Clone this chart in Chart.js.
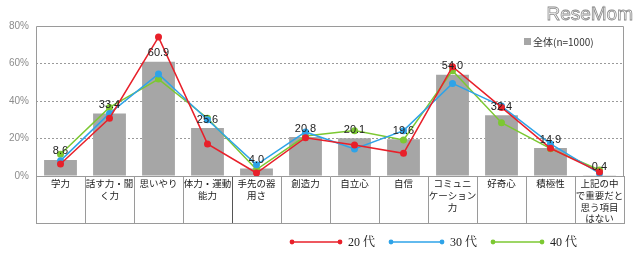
<!DOCTYPE html>
<html>
<head>
<meta charset="utf-8">
<script src="https://cdn.jsdelivr.net/npm/chart.js@4"></script>
<style>
  html, body { margin: 0; padding: 0; background: #fff; }
  #wrap { width: 640px; height: 255px; position: relative; }
</style>
</head>
<body>
<div id="wrap"><canvas id="chart" width="640" height="255"></canvas></div>
<script>
// categories (multi-line labels as drawn in the table under the chart)
const categories = [
  ["学力"],
  ["話す力・聞", "く力"],
  ["思いやり"],
  ["体力・運動", "能力"],
  ["手先の器", "用さ"],
  ["創造力"],
  ["自立心"],
  ["自信"],
  ["コミュニ", "ケーション", "力"],
  ["好奇心"],
  ["積極性"],
  ["上記の中", "で重要だと", "思う項目", "はない"]
];

// 全体 (n=1000) bars, %
const overall = [8.6, 33.4, 60.9, 25.6, 4.0, 20.8, 20.1, 19.6, 54.0, 32.4, 14.9, 0.4];
// age groups, %
const age20 = [6.4, 30.8, 74.1, 17.1, 1.6, 20.4, 16.5, 12.1, 58.3, 36.6, 14.8, 2.2];
const age30 = [8.2, 33.4, 54.4, 30.0, 6.0, 23.5, 14.4, 24.2, 49.4, 37.3, 17.1, 1.4];
const age40 = [11.6, 36.6, 51.7, 30.8, 3.4, 21.3, 24.2, 19.2, 56.2, 28.4, 14.6, 3.2];

const yTicks = [0, 20, 40, 60, 80];

const RED = "#e8202a", BLUE = "#2ea3e8", GREEN = "#7cc832", BARGRAY = "#a6a6a6";
const LINE_GRAY = "#9a9a9a";
const JP = '"Noto Sans CJK JP", sans-serif';

function lineSet(label, data, color, order) {
  return {
    type: "line", label, data, order,
    borderColor: color, backgroundColor: color,
    borderWidth: 1.5, tension: 0,
    pointRadius: 3.5, pointBorderWidth: 0, pointBackgroundColor: color
  };
}

const decor = {
  id: "decor",
  beforeDatasetsDraw(chart) {
    const { ctx, chartArea: a } = chart;
    ctx.save();
    // plot frame
    ctx.strokeStyle = LINE_GRAY;
    ctx.lineWidth = 1;
    ctx.beginPath();
    ctx.moveTo(a.left + 0.5, a.bottom);
    ctx.lineTo(a.left + 0.5, a.top + 0.5);
    ctx.lineTo(a.right - 0.5, a.top + 0.5);
    ctx.lineTo(a.right - 0.5, a.bottom);
    ctx.stroke();
    // bottom line of category table
    const xs = chart.scales.x;
    const tb = a.bottom + xs.options.grid.tickLength;
    ctx.beginPath();
    ctx.moveTo(a.left, tb - 0.5);
    ctx.lineTo(a.right, tb - 0.5);
    ctx.stroke();
    ctx.restore();
  },
  afterDatasetsDraw(chart) {
    const { ctx } = chart;
    ctx.save();
    // value labels above bars
    const meta = chart.getDatasetMeta(0);
    ctx.font = '11px "Liberation Sans", Arial, sans-serif';
    ctx.fillStyle = "#222";
    ctx.textAlign = "center";
    ctx.textBaseline = "bottom";
    meta.data.forEach((bar, i) => {
      ctx.fillText(overall[i].toFixed(1), bar.x, bar.y - 3);
    });
    // 全体 legend (inside plot, top right)
    ctx.fillStyle = BARGRAY;
    ctx.fillRect(524, 38, 7, 7);
    ctx.fillStyle = "#333";
    ctx.font = "10px " + JP;
    ctx.textAlign = "left";
    ctx.textBaseline = "middle";
    ctx.fillText("全体(n=1000)", 533, 42);
    // age legend at the bottom
    const items = [
      { label: "20 代", color: RED, x0: 292, x1: 340 },
      { label: "30 代", color: BLUE, x0: 391, x1: 442 },
      { label: "40 代", color: GREEN, x0: 493, x1: 542 }
    ];
    const ly = 242;
    items.forEach(it => {
      ctx.strokeStyle = it.color;
      ctx.fillStyle = it.color;
      ctx.lineWidth = 1.5;
      ctx.beginPath();
      ctx.moveTo(it.x0, ly);
      ctx.lineTo(it.x1, ly);
      ctx.stroke();
      [it.x0, it.x1].forEach(px => {
        ctx.beginPath();
        ctx.arc(px, ly, 2.4, 0, Math.PI * 2);
        ctx.fill();
      });
      ctx.fillStyle = "#222";
      ctx.font = '12px "Liberation Serif", "Noto Serif CJK JP", "Noto Sans CJK JP", serif';
      ctx.fillText(it.label, it.x1 + 8, ly + 1);
    });
    // watermark
    ctx.font = '19px "Liberation Sans", Arial, sans-serif';
    ctx.textAlign = "right";
    ctx.textBaseline = "alphabetic";
    ctx.lineWidth = 0.8;
    ctx.fillStyle = "#fff";
    ctx.strokeStyle = "#8a8a8a";
    ctx.fillText("ReseMom", 633, 20);
    ctx.strokeText("ReseMom", 633, 20);
    ctx.restore();
  }
};

new Chart(document.getElementById("chart"), {
  type: "bar",
  data: {
    labels: categories,
    datasets: [
      {
        type: "bar", label: "全体(n=1000)", data: overall, order: 10,
        backgroundColor: BARGRAY, borderWidth: 0,
        barPercentage: 0.67, categoryPercentage: 1
      },
      lineSet("20代", age20, RED, 1),
      lineSet("30代", age30, BLUE, 2),
      lineSet("40代", age40, GREEN, 3)
    ]
  },
  options: {
    responsive: false,
    animation: false,
    devicePixelRatio: 1,
    layout: { padding: { left: 0, top: 26, right: 16, bottom: 31 } },
    plugins: { legend: { display: false }, tooltip: { enabled: false } },
    scales: {
      y: {
        min: 0, max: 80,
        afterBuildTicks(scale) { scale.ticks = yTicks.map(v => ({ value: v })); },
        afterFit(scale) { scale.width = 36; },
        ticks: {
          callback: v => v + "%",
          color: "#8c8c8c",
          font: { size: 10, family: '"Liberation Sans", Arial, sans-serif' },
          padding: 7
        },
        grid: {
          drawTicks: false,
          color: ctx => (ctx.tick && (ctx.tick.value === 0 || ctx.tick.value === 80)) ? "rgba(0,0,0,0)" : LINE_GRAY,
          lineWidth: 1
        },
        border: { display: false, dash: [2, 2] }
      },
      x: {
        afterFit(scale) { scale.height = 48; },
        ticks: {
          autoSkip: false, maxRotation: 0, minRotation: 0,
          padding: -46,
          color: "#222",
          font: { size: 9.5, family: JP, lineHeight: 1.22 }
        },
        grid: {
          offset: true,
          drawOnChartArea: false,
          tickLength: 48,
          color: ctx => ctx.index === 4 ? "#555" : LINE_GRAY,
          lineWidth: 1
        },
        border: { display: true, color: LINE_GRAY, width: 1 }
      }
    }
  },
  plugins: [decor]
});
</script>
</body>
</html>
